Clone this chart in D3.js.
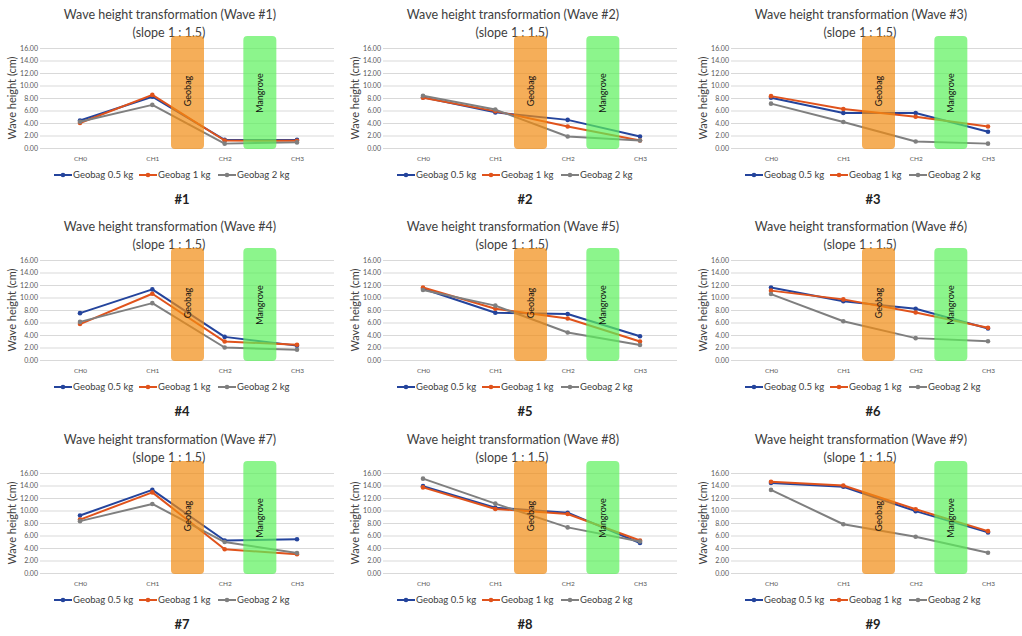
<!DOCTYPE html>
<html><head><meta charset="utf-8">
<script src="https://cdn.jsdelivr.net/npm/d3@7"></script>
<style>
html,body{margin:0;padding:0;background:#fff;}
svg{display:block;font-family:Lato,"Open Sans",sans-serif;}
</style></head>
<body>
<svg id="chart" width="1022" height="636"></svg>
<script>
// ---------- DATA ----------
const categories = ["CH0", "CH1", "CH2", "CH3"];
const seriesNames = ["Geobag 0.5 kg", "Geobag 1 kg", "Geobag 2 kg"];
const waveIds = [1, 2, 3, 4, 5, 6, 7, 8, 9];
const yTicks = [0, 2, 4, 6, 8, 10, 12, 14, 16];

// values per wave: [CH0, CH1, CH2, CH3]
const geobag05 = [
  [4.4, 8.2, 1.3, 1.3],
  [8.1, 5.7, 4.5, 1.85],
  [8.05, 5.6, 5.6, 2.6],
  [7.5, 11.3, 3.7, 2.3],
  [11.4, 7.55, 7.35, 3.8],
  [11.6, 9.4, 8.2, 5.05],
  [9.2, 13.3, 5.2, 5.4],
  [13.9, 10.45, 9.65, 4.8],
  [14.4, 13.8, 9.9, 6.5]
];
const geobag1 = [
  [4.0, 8.5, 1.2, 1.15],
  [8.05, 5.9, 3.45, 1.2],
  [8.3, 6.25, 5.0, 3.45],
  [5.75, 10.6, 2.95, 2.45],
  [11.6, 8.2, 6.65, 2.95],
  [11.1, 9.7, 7.6, 5.15],
  [8.55, 12.9, 3.8, 3.0],
  [13.7, 10.25, 9.45, 5.2],
  [14.6, 14.0, 10.2, 6.7]
];
const geobag2 = [
  [4.2, 6.9, 0.7, 0.9],
  [8.35, 6.15, 1.85, 1.2],
  [7.1, 4.15, 1.05, 0.7],
  [6.1, 9.1, 2.0, 1.65],
  [11.2, 8.7, 4.4, 2.4],
  [10.55, 6.2, 3.5, 3.0],
  [8.3, 11.05, 4.95, 3.2],
  [15.1, 11.1, 7.3, 5.05],
  [13.3, 7.8, 5.8, 3.25]
];
const zoneLabels = ["Geobag", "Mangrove"];

// ---------- STYLE ----------
const seriesColors = ["#24449c", "#e0531c", "#7f7f7f"];
const zoneColors = ["#f18b13", "#5bf15b"];
const colX = [0, 343, 691];
const rowY = [0, 212, 425];

const svg = d3.select("#chart");
const allSeries = [geobag05, geobag1, geobag2];

waveIds.forEach((w, i) => {
  const g = svg.append("g")
    .attr("transform", `translate(${colX[i % 3]},${rowY[Math.floor(i / 3)]})`);

  const x = d3.scalePoint().domain(categories).range([80, 297]);
  const y = d3.scaleLinear().domain([0, 16]).range([148, 48]);

  // titles
  g.append("text").attr("x", 170).attr("y", 19).attr("text-anchor", "middle")
    .attr("font-size", 12.5).attr("fill", "#404040")
    .text(`Wave height transformation (Wave #${w})`);
  g.append("text").attr("x", 169).attr("y", 37).attr("text-anchor", "middle")
    .attr("font-size", 12.5).attr("fill", "#404040")
    .text("(slope 1 : 1.5)");

  // y axis with gridlines
  const yAxis = d3.axisLeft(y).tickValues(yTicks).tickFormat(d3.format(".2f"))
    .tickSize(-294).tickPadding(2);
  const ya = g.append("g").attr("transform", "translate(40,0)").call(yAxis);
  ya.select(".domain").remove();
  ya.selectAll(".tick line").attr("stroke", "#d9d9d9").attr("stroke-width", 1);
  ya.selectAll(".tick text").attr("font-size", 7).attr("fill", "#595959")
    .attr("font-family", "Lato, sans-serif");

  // x axis labels
  const xAxis = d3.axisBottom(x).tickSize(0).tickPadding(0);
  const xa = g.append("g").attr("transform", "translate(0,156)").call(xAxis);
  xa.select(".domain").remove();
  xa.selectAll(".tick text").attr("font-size", 6.5).attr("fill", "#595959")
    .attr("font-family", "Lato, sans-serif");

  // y title
  g.append("text").attr("transform", "translate(16,98) rotate(-90)")
    .attr("text-anchor", "middle").attr("font-size", 11).attr("fill", "#404040")
    .text("Wave height (cm)");

  // lines
  const line = d3.line().x((d, k) => x(categories[k])).y(d => y(d));
  allSeries.forEach((s, si) => {
    const vals = s[i];
    g.append("path").datum(vals).attr("d", line).attr("fill", "none")
      .attr("stroke", seriesColors[si]).attr("stroke-width", 2)
      .attr("stroke-linejoin", "round");
    g.selectAll(null).data(vals).enter().append("circle")
      .attr("cx", (d, k) => x(categories[k])).attr("cy", d => y(d))
      .attr("r", 2.3).attr("fill", seriesColors[si]);
  });

  // zone rectangles (between CH1-CH2 and CH2-CH3)
  [[1, 2], [2, 3]].forEach((pair, zi) => {
    const cx = (x(categories[pair[0]]) + x(categories[pair[1]])) / 2 - 1;
    const wdt = 33;
    g.append("rect").attr("x", cx - wdt / 2).attr("y", 36)
      .attr("width", wdt).attr("height", 113).attr("rx", 4)
      .attr("fill", zoneColors[zi]).attr("fill-opacity", 0.7);
    g.append("text")
      .attr("transform", `translate(${cx + 3},${zi === 0 ? 91 : 93}) rotate(-90)`)
      .attr("text-anchor", "middle").attr("font-size", 9).attr("fill", "#111")
      .text(zoneLabels[zi]);
  });

  // legend
  const legX = [54, 139, 218];
  seriesNames.forEach((nm, si) => {
    const lg = g.append("g").attr("transform", `translate(${legX[si]},175)`);
    lg.append("line").attr("x1", 0).attr("x2", 18).attr("y1", 0).attr("y2", 0)
      .attr("stroke", seriesColors[si]).attr("stroke-width", 2);
    lg.append("circle").attr("cx", 9).attr("cy", 0).attr("r", 2.3).attr("fill", seriesColors[si]);
    lg.append("text").attr("x", 19).attr("y", 3.3).attr("font-size", 9.5)
      .attr("fill", "#404040").text(nm);
  });

  // panel label
  g.append("text").attr("x", 182).attr("y", 204).attr("text-anchor", "middle")
    .attr("font-size", 13).attr("font-weight", "bold").attr("fill", "#222")
    .text(`#${w}`);
});
</script>
</body></html>
